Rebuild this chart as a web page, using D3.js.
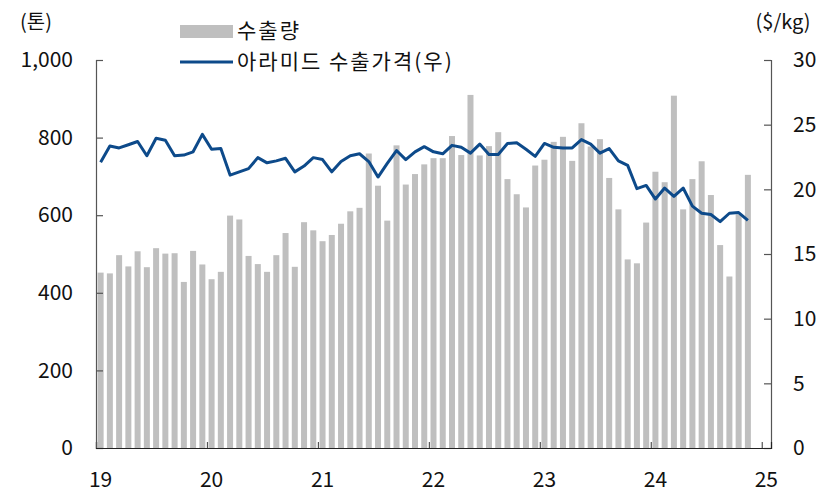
<!DOCTYPE html>
<html>
<head>
<meta charset="utf-8">
<script src="https://cdn.jsdelivr.net/npm/d3@7"></script>
<style>
  body { margin: 0; background: #fff; }
  svg text { font-family: "Noto Sans CJK KR", "Noto Sans", sans-serif; fill: #111; }
</style>
</head>
<body>
<svg id="chart" width="828" height="494"></svg>
<script>
// monthly, Jan 2019 .. Nov 2024
var volume = [
  452, 450, 497, 468, 507, 466, 515, 501, 502, 428, 508, 473,
  435, 454, 599, 589, 495, 474, 454, 497, 554, 467, 582, 561,
  533, 549, 578, 610, 619, 759, 676, 586, 780, 679, 706, 731,
  747, 747, 804, 755, 910, 754, 778, 814, 693, 654, 620, 728,
  743, 789, 802, 740, 837, 777, 796, 696, 615, 486, 476, 581,
  712, 685, 908, 615, 693, 739, 652, 523, 442, 602, 704
];
var price = [
  22.1, 23.35, 23.2, 23.45, 23.7, 22.6, 23.95, 23.8, 22.6, 22.65, 22.9, 24.25,
  23.1, 23.15, 21.1, 21.35, 21.6, 22.45, 22.05, 22.2, 22.4, 21.35, 21.8, 22.45,
  22.3, 21.35, 22.15, 22.6, 22.75, 22.15, 20.95, 22.0, 23.0, 22.3, 22.9, 23.3,
  22.9, 22.75, 23.4, 23.25, 22.8, 23.5, 22.7, 22.7, 23.55, 23.6, 23.1, 22.55,
  23.55, 23.25, 23.2, 23.2, 23.85, 23.5, 22.8, 23.15, 22.2, 21.85, 20.05, 20.3,
  19.25, 20.1, 19.45, 20.1, 18.7, 18.15, 18.05, 17.5, 18.15, 18.2, 17.6
];
var yearLabels = ["19", "20", "21", "22", "23", "24", "25"];
var leftTicks = [0, 200, 400, 600, 800, 1000];
var rightTicks = [0, 5, 10, 15, 20, 25, 30];
var seriesNames = ["수출량", "아라미드 수출가격(우)"];

(function() {
  var svg = d3.select("#chart");
  var mLeft = 96, mRight = 771, mTop = 60, mBottom = 448;
  var nSlots = 73;
  var fs = "21px";

  var x = d3.scaleLinear().domain([0, nSlots]).range([mLeft, mRight]);
  var yL = d3.scaleLinear().domain([0, 1000]).range([mBottom, mTop]);
  var yR = d3.scaleLinear().domain([0, 30]).range([mBottom, mTop]);

  var barW = 6;

  // bars
  svg.append("g").selectAll("rect")
    .data(volume)
    .enter().append("rect")
      .attr("x", function(d, i) { return x(i + 0.5) - barW / 2; })
      .attr("width", barW)
      .attr("y", function(d) { return yL(d); })
      .attr("height", function(d) { return yL(0) - yL(d); })
      .attr("fill", "#bfbfbf");

  // price line
  var line = d3.line()
    .x(function(d, i) { return x(i + 0.5); })
    .y(function(d) { return yR(d); });

  svg.append("path")
    .datum(price)
    .attr("d", line)
    .attr("fill", "none")
    .attr("stroke", "#0d4a8a")
    .attr("stroke-width", 3)
    .attr("stroke-linejoin", "round");

  // axes
  var axisColor = "#555";
  var leftAxis = d3.axisLeft(yL).tickValues(leftTicks).tickSize(-7).tickPadding(23)
    .tickFormat(d3.format(","));
  var gL = svg.append("g").attr("transform", "translate(" + mLeft + ",0)").call(leftAxis);

  var rightAxis = d3.axisRight(yR).tickValues(rightTicks).tickSize(-7).tickPadding(22);
  var gR = svg.append("g").attr("transform", "translate(" + mRight + ",0)").call(rightAxis);

  var bottomAxis = d3.axisBottom(x).tickValues(d3.range(0, 73, 12)).tickSize(-6)
    .tickFormat("");
  var gB = svg.append("g").attr("transform", "translate(0," + mBottom + ")").call(bottomAxis);

  [gL, gR, gB].forEach(function(g) {
    g.select(".domain").attr("stroke", axisColor).attr("stroke-width", 1.2);
    g.selectAll(".tick line").attr("stroke", axisColor).attr("stroke-width", 1.2);
    g.selectAll(".tick text").style("font-size", fs).attr("fill", "#111")
      .style("font-family", "'Noto Sans CJK KR', sans-serif");
  });
  gB.select(".domain").attr("stroke", "#222");

  // year labels centred on the January slot
  svg.append("g").selectAll("text")
    .data(yearLabels)
    .enter().append("text")
      .attr("x", function(d, i) { return x(i * 12 + 0.5); })
      .attr("y", 480)
      .attr("dy", "0.35em")
      .attr("text-anchor", "middle")
      .style("font-size", fs)
      .text(function(d) { return d; });

  // unit labels
  svg.append("text").attr("x", 36).attr("y", 22).attr("dy", "0.35em")
    .attr("text-anchor", "middle").style("font-size", "20px").text("(톤)");
  svg.append("text").attr("x", 783).attr("y", 22).attr("dy", "0.35em")
    .attr("text-anchor", "middle").style("font-size", "20px").text("($/kg)");

  // legend
  var lg = svg.append("g");
  lg.append("rect").attr("x", 180).attr("y", 25).attr("width", 53).attr("height", 13)
    .attr("fill", "#bfbfbf");
  lg.append("line").attr("x1", 180).attr("x2", 233).attr("y1", 62).attr("y2", 62)
    .attr("stroke", "#0d4a8a").attr("stroke-width", 3);
  lg.selectAll("text")
    .data(seriesNames)
    .enter().append("text")
      .attr("x", 237)
      .attr("y", function(d, i) { return 31 + i * 31; })
      .attr("dy", "0.35em")
      .style("font-size", fs)
      .style("letter-spacing", "2px")
      .text(function(d) { return d; });
})();
</script>
</body>
</html>
